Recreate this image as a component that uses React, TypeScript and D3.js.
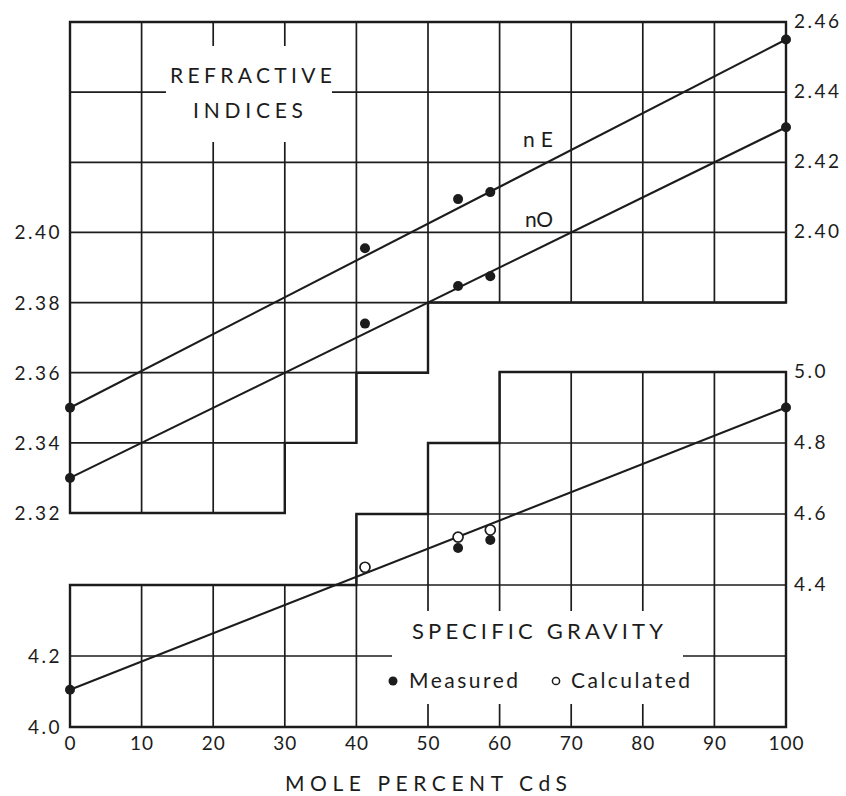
import { select, scaleLinear, range, line } from "d3";
import React, { useEffect, useRef } from "react";

// x axis: mole percent CdS
const xTicks = range(0, 101, 10);

// refractive index scale ticks
const refLeftTicks = [2.32, 2.34, 2.36, 2.38, 2.4];
const refRightTicks = [2.4, 2.42, 2.44, 2.46];
const refGridLevels = [2.34, 2.36, 2.38, 2.4, 2.42, 2.44];

// specific gravity scale ticks
const sgLeftTicks = [4.0, 4.2];
const sgRightTicks = [4.4, 4.6, 4.8, 5.0];
const sgGridLevels = [4.2, 4.4, 4.6, 4.8];

// staircase borders of the two grids
const refStepX = [0, 30, 40, 50, 100];
const refStepLow = [2.32, 2.34, 2.36, 2.38];
const sgStepX = [0, 40, 50, 60, 100];
const sgStepHigh = [4.4, 4.6, 4.8, 5.0];

// fitted lines (end points are end-member dots too)
const fitX = [0, 100];
const nEFit = [2.35, 2.455];
const nOFit = [2.33, 2.43];
const sgFit = [4.105, 4.9];

// measured points
const measX = [41.2, 54.2, 58.7];
const nEMeas = [2.3955, 2.4095, 2.4115];
const nOMeas = [2.374, 2.3847, 2.3875];
const sgMeasX = [54.2, 58.7];
const sgMeas = [4.504, 4.527];
const sgCalcX = [41.2, 54.2, 58.7];
const sgCalc = [4.45, 4.535, 4.555];

const ink = "#1c1c1c";
const font = "Lato, 'DejaVu Sans', sans-serif";

const App = () => {
  const svgRef = useRef(null);

  useEffect(() => {
    document.body.style.margin = "0";
    const svg = select(svgRef.current);
    svg.selectAll("*").remove();

    const x = scaleLinear().domain([0, 100]).range([70, 786]);
    const yR = scaleLinear().domain([2.32, 2.46]).range([513, 22]);
    const yS = scaleLinear().domain([4.0, 5.0]).range([727, 372]);

    const g = svg.append("g");

    // --- top grid (refractive indices)
    const deepest = (v) => {
      let lo = 9;
      for (let i = 0; i < refStepLow.length; i++)
        if (refStepX[i] <= v && v <= refStepX[i + 1]) lo = Math.min(lo, refStepLow[i]);
      return lo;
    };
    g.selectAll(".vr")
      .data(xTicks.slice(1, -1))
      .join("line")
      .attr("x1", (d) => x(d))
      .attr("x2", (d) => x(d))
      .attr("y1", yR(2.46))
      .attr("y2", (d) => yR(deepest(d)))
      .attr("stroke", ink)
      .attr("stroke-width", 1.7);
    g.selectAll(".hr")
      .data(refGridLevels)
      .join("line")
      .attr("x1", x(0))
      .attr("x2", (v) => {
        let end = 0;
        refStepLow.forEach((lo, i) => {
          if (lo <= v + 1e-9) end = Math.max(end, refStepX[i + 1]);
        });
        return x(end);
      })
      .attr("y1", (v) => yR(v))
      .attr("y2", (v) => yR(v))
      .attr("stroke", ink)
      .attr("stroke-width", 1.7);

    const topOutline = [[0, 2.46], [100, 2.46]];
    for (let i = refStepLow.length - 1; i >= 0; i--) {
      topOutline.push([refStepX[i + 1], refStepLow[i]]);
      topOutline.push([refStepX[i], refStepLow[i]]);
    }
    g.append("path")
      .attr("d", line().x((d) => x(d[0])).y((d) => yR(d[1]))(topOutline) + "Z")
      .attr("fill", "none")
      .attr("stroke", ink)
      .attr("stroke-width", 2.4);

    // --- bottom grid (specific gravity)
    const highest = (v) => {
      let hi = 0;
      for (let i = 0; i < sgStepHigh.length; i++)
        if (sgStepX[i] <= v && v <= sgStepX[i + 1]) hi = Math.max(hi, sgStepHigh[i]);
      return hi;
    };
    g.selectAll(".vs")
      .data(xTicks.slice(1, -1))
      .join("line")
      .attr("x1", (d) => x(d))
      .attr("x2", (d) => x(d))
      .attr("y1", yS(4.0))
      .attr("y2", (d) => yS(highest(d)))
      .attr("stroke", ink)
      .attr("stroke-width", 1.7);
    g.selectAll(".hs")
      .data(sgGridLevels)
      .join("line")
      .attr("x1", (v) => {
        let start = 100;
        sgStepHigh.forEach((hi, i) => {
          if (hi >= v - 1e-9) start = Math.min(start, sgStepX[i]);
        });
        return x(start);
      })
      .attr("x2", x(100))
      .attr("y1", (v) => yS(v))
      .attr("y2", (v) => yS(v))
      .attr("stroke", ink)
      .attr("stroke-width", 1.7);

    const botOutline = [[0, 4.0], [100, 4.0]];
    for (let i = sgStepHigh.length - 1; i >= 0; i--) {
      botOutline.push([sgStepX[i + 1], sgStepHigh[i]]);
      botOutline.push([sgStepX[i], sgStepHigh[i]]);
    }
    g.append("path")
      .attr("d", line().x((d) => x(d[0])).y((d) => yS(d[1]))(botOutline) + "Z")
      .attr("fill", "none")
      .attr("stroke", ink)
      .attr("stroke-width", 2.4);

    // white boxes behind the titles
    g.append("rect").attr("x", 166).attr("y", 46).attr("width", 166).attr("height", 96).attr("fill", "#fff");
    g.append("rect").attr("x", 392).attr("y", 611).attr("width", 291).attr("height", 93).attr("fill", "#fff");

    // --- fitted lines
    const fits = [
      { vals: nEFit, y: yR },
      { vals: nOFit, y: yR },
      { vals: sgFit, y: yS },
    ];
    fits.forEach((f) => {
      g.append("line")
        .attr("x1", x(fitX[0]))
        .attr("x2", x(fitX[1]))
        .attr("y1", f.y(f.vals[0]))
        .attr("y2", f.y(f.vals[1]))
        .attr("stroke", ink)
        .attr("stroke-width", 2.1);
      g.selectAll(null)
        .data(f.vals)
        .join("circle")
        .attr("cx", (d, i) => x(fitX[i]))
        .attr("cy", (d) => f.y(d))
        .attr("r", 5)
        .attr("fill", ink);
    });

    // --- measured points
    [nEMeas, nOMeas].forEach((vals) => {
      g.selectAll(null)
        .data(vals)
        .join("circle")
        .attr("cx", (d, i) => x(measX[i]))
        .attr("cy", (d) => yR(d))
        .attr("r", 5)
        .attr("fill", ink);
    });
    g.selectAll(null)
      .data(sgMeas)
      .join("circle")
      .attr("cx", (d, i) => x(sgMeasX[i]))
      .attr("cy", (d) => yS(d))
      .attr("r", 5)
      .attr("fill", ink);
    g.selectAll(null)
      .data(sgCalc)
      .join("circle")
      .attr("cx", (d, i) => x(sgCalcX[i]))
      .attr("cy", (d) => yS(d))
      .attr("r", 5)
      .attr("fill", "#fff")
      .attr("stroke", ink)
      .attr("stroke-width", 1.7);

    // --- text (alphabetic baselines)
    const txt = (sel, size, spacing) =>
      sel
        .attr("font-family", font)
        .attr("font-size", size)
        .attr("letter-spacing", spacing)
        .attr("fill", ink);

    // text spread to a fixed width, like the lettering of the original
    const title = (t, x0, x1, y, size) =>
      txt(g.append("text"), size, 0)
        .attr("x", x0)
        .attr("y", y)
        .attr("textLength", x1 - x0)
        .attr("lengthAdjust", "spacing")
        .text(t);

    txt(g.selectAll(null).data(xTicks).join("text"), 19, 1)
      .attr("x", (d) => x(d) + 0.5)
      .attr("y", 750)
      .attr("text-anchor", "middle")
      .text((d) => d);

    const leftLabels = [
      ...refLeftTicks.map((v) => ({ y: yR(v), t: v.toFixed(2) })),
      ...sgLeftTicks.map((v) => ({ y: yS(v), t: v.toFixed(1) })),
    ];
    txt(g.selectAll(null).data(leftLabels).join("text"), 19, 2.5)
      .attr("x", 62)
      .attr("y", (d) => d.y + 7)
      .attr("text-anchor", "end")
      .text((d) => d.t);

    const rightLabels = [
      ...refRightTicks.map((v) => ({ y: yR(v), t: v.toFixed(2) })),
      ...sgRightTicks.map((v) => ({ y: yS(v), t: v.toFixed(1) })),
    ];
    txt(g.selectAll(null).data(rightLabels).join("text"), 19, 2.5)
      .attr("x", 794)
      .attr("y", (d) => d.y + 6)
      .attr("text-anchor", "start")
      .text((d) => d.t);

    title("REFRACTIVE", 170, 332, 83, 21);
    title("INDICES", 193, 303, 118, 21);
    title("nE", 523, 553, 147, 21);
    title("nO", 525, 553, 227, 21);

    title("SPECIFIC GRAVITY", 412, 663, 639, 22);
    g.append("circle").attr("cx", 393).attr("cy", 681).attr("r", 4.5).attr("fill", ink);
    title("Measured", 409, 518, 688, 21);
    g.append("circle").attr("cx", 556).attr("cy", 681).attr("r", 3.6).attr("fill", "#fff").attr("stroke", ink).attr("stroke-width", 1.5);
    title("Calculated", 571, 690, 688, 21);

    title("MOLE PERCENT CdS", 285, 567, 791, 21);
  }, []);

  return (
    <svg
      ref={svgRef}
      width={846}
      height={796}
      style={{ display: "block", background: "#fff" }}
    />
  );
};

export default App;
